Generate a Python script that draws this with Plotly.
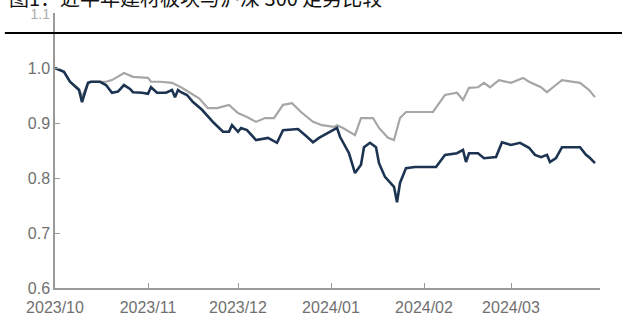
import plotly.graph_objects as go

# 建材板块 (深色) 与 沪深300 (浅灰) 归一化走势
sector_dates = [
    "2023-10-01", "2023-10-04", "2023-10-06", "2023-10-09", "2023-10-10",
    "2023-10-12", "2023-10-13", "2023-10-16", "2023-10-18", "2023-10-20",
    "2023-10-22", "2023-10-24", "2023-10-26", "2023-10-27", "2023-10-30",
    "2023-11-01", "2023-11-02", "2023-11-04", "2023-11-07", "2023-11-09",
    "2023-11-10", "2023-11-11", "2023-11-12", "2023-11-14", "2023-11-16",
    "2023-11-19", "2023-11-23", "2023-11-26", "2023-11-28", "2023-11-29",
    "2023-12-01", "2023-12-02", "2023-12-04", "2023-12-07", "2023-12-11",
    "2023-12-14", "2023-12-16", "2023-12-21", "2023-12-24", "2023-12-26",
    "2023-12-28", "2024-01-01", "2024-01-03", "2024-01-04", "2024-01-06",
    "2024-01-07", "2024-01-09", "2024-01-11", "2024-01-12", "2024-01-14",
    "2024-01-16", "2024-01-17", "2024-01-19", "2024-01-21", "2024-01-22",
    "2024-01-23", "2024-01-24", "2024-01-26", "2024-01-29", "2024-02-05",
    "2024-02-08", "2024-02-12", "2024-02-14", "2024-02-15", "2024-02-16",
    "2024-02-19", "2024-02-21", "2024-02-25", "2024-02-27", "2024-03-01",
    "2024-03-04", "2024-03-07", "2024-03-09", "2024-03-11", "2024-03-13",
    "2024-03-14", "2024-03-16", "2024-03-18", "2024-03-24", "2024-03-26",
    "2024-03-27", "2024-03-29",
]
sector_values = [
    1.000, 0.993, 0.975, 0.960, 0.938,
    0.973, 0.975, 0.975, 0.969, 0.955,
    0.957, 0.969, 0.962, 0.956, 0.955,
    0.953, 0.965, 0.955, 0.955, 0.960,
    0.947, 0.960, 0.956, 0.951, 0.938,
    0.924, 0.900, 0.884, 0.884, 0.896,
    0.884, 0.891, 0.887, 0.869, 0.873,
    0.864, 0.887, 0.889, 0.875, 0.865,
    0.873, 0.884, 0.891, 0.875, 0.856,
    0.845, 0.809, 0.824, 0.856, 0.864,
    0.856, 0.827, 0.802, 0.791, 0.784,
    0.756, 0.791, 0.818, 0.820, 0.820,
    0.842, 0.845, 0.851, 0.829, 0.845,
    0.845, 0.836, 0.838, 0.865, 0.860,
    0.864, 0.855, 0.842, 0.838, 0.842,
    0.829, 0.836, 0.856, 0.856, 0.842,
    0.838, 0.827,
]

index_dates = [
    "2023-10-01", "2023-10-04", "2023-10-06", "2023-10-09", "2023-10-10",
    "2023-10-12", "2023-10-13", "2023-10-16", "2023-10-18", "2023-10-20",
    "2023-10-24", "2023-10-27", "2023-11-01", "2023-11-02", "2023-11-05",
    "2023-11-09", "2023-11-12", "2023-11-15", "2023-11-18", "2023-11-21",
    "2023-11-24", "2023-11-28", "2023-12-01", "2023-12-04", "2023-12-07",
    "2023-12-10", "2023-12-13", "2023-12-16", "2023-12-19", "2023-12-22",
    "2023-12-26", "2023-12-29", "2024-01-02", "2024-01-03", "2024-01-05",
    "2024-01-09", "2024-01-11", "2024-01-15", "2024-01-17", "2024-01-20",
    "2024-01-22", "2024-01-24", "2024-01-26", "2024-02-04", "2024-02-08",
    "2024-02-12", "2024-02-14", "2024-02-16", "2024-02-19", "2024-02-21",
    "2024-02-23", "2024-02-26", "2024-03-01", "2024-03-05", "2024-03-07",
    "2024-03-11", "2024-03-13", "2024-03-15", "2024-03-18", "2024-03-24",
    "2024-03-27", "2024-03-29",
]
index_values = [
    1.000, 0.993, 0.975, 0.962, 0.948,
    0.972, 0.975, 0.975, 0.975, 0.978,
    0.991, 0.984, 0.982, 0.975, 0.975,
    0.973, 0.965, 0.955, 0.945, 0.927,
    0.927, 0.933, 0.918, 0.911, 0.902,
    0.909, 0.909, 0.933, 0.936, 0.920,
    0.902, 0.896, 0.893, 0.896, 0.891,
    0.878, 0.909, 0.909, 0.891, 0.873,
    0.869, 0.909, 0.920, 0.920, 0.951,
    0.955, 0.942, 0.964, 0.965, 0.973,
    0.965, 0.978, 0.973, 0.982, 0.975,
    0.965, 0.956, 0.965, 0.978, 0.973,
    0.960, 0.947,
]

y_ticks = [0.6, 0.7, 0.8, 0.9, 1.0, 1.1]
y_tick_labels = ["0.6", "0.7", "0.8", "0.9", "1.0", "1.1"]
x_ticks = ["2023-10-01", "2023-11-01", "2023-12-01", "2024-01-01", "2024-02-01", "2024-03-01"]
x_tick_labels = ["2023/10", "2023/11", "2023/12", "2024/01", "2024/02", "2024/03"]
title_text = "图1：近半年建材板块与沪深 300 走势比较"

# the topmost label sits just under the title, so it is drawn smaller and lighter
y_tick_text = [
    lbl if v < 1.05 else f"<span style='font-size:14px;fill:#ababab'>{lbl}</span>"
    for v, lbl in zip(y_ticks, y_tick_labels)
]

fig = go.Figure()
fig.add_trace(go.Scatter(
    x=index_dates, y=index_values, mode="lines", name="沪深300",
    line=dict(color="#a6a6a6", width=2.2),
))
fig.add_trace(go.Scatter(
    x=sector_dates, y=sector_values, mode="lines", name="建材",
    line=dict(color="#1c3452", width=2.6),
))

axis_color = "#9a9a9a"
tick_font = dict(family="Liberation Sans, Arial, sans-serif", size=16, color="#707070")

fig.update_layout(
    width=622, height=320, autosize=False,
    margin=dict(l=55, r=22, t=13, b=32, pad=0),
    paper_bgcolor="white", plot_bgcolor="white",
    showlegend=False,
    xaxis=dict(
        range=["2023-10-01", "2024-03-30 16:00"], automargin=False,
        tickmode="array", tickvals=x_ticks, ticktext=x_tick_labels,
        ticks="inside", ticklen=5, tickcolor=axis_color, tickwidth=1.2,
        showline=True, linecolor=axis_color, linewidth=1.5,
        showgrid=False, zeroline=False, tickfont=tick_font, ticklabelstandoff=4,
    ),
    yaxis=dict(
        range=[0.6, 1.1], automargin=False,
        tickmode="array", tickvals=y_ticks, ticktext=y_tick_text,
        ticks="inside", ticklen=5, tickcolor=axis_color, tickwidth=1.2,
        showline=True, linecolor=axis_color, linewidth=1.5,
        showgrid=False, zeroline=False, tickfont=tick_font,
    ),
    annotations=[dict(
        text=title_text, xref="paper", yref="paper",
        x=-0.088, y=0.998, xanchor="left", yanchor="bottom", showarrow=False,
        font=dict(family="Noto Sans CJK SC, sans-serif", size=20, color="#111111"),
    )],
    shapes=[dict(
        type="line", xref="paper", yref="paper",
        x0=-0.092, x1=1.05, y0=0.927, y1=0.927,
        line=dict(color="black", width=2),
    )],
)

fig.write_html("out.html")
